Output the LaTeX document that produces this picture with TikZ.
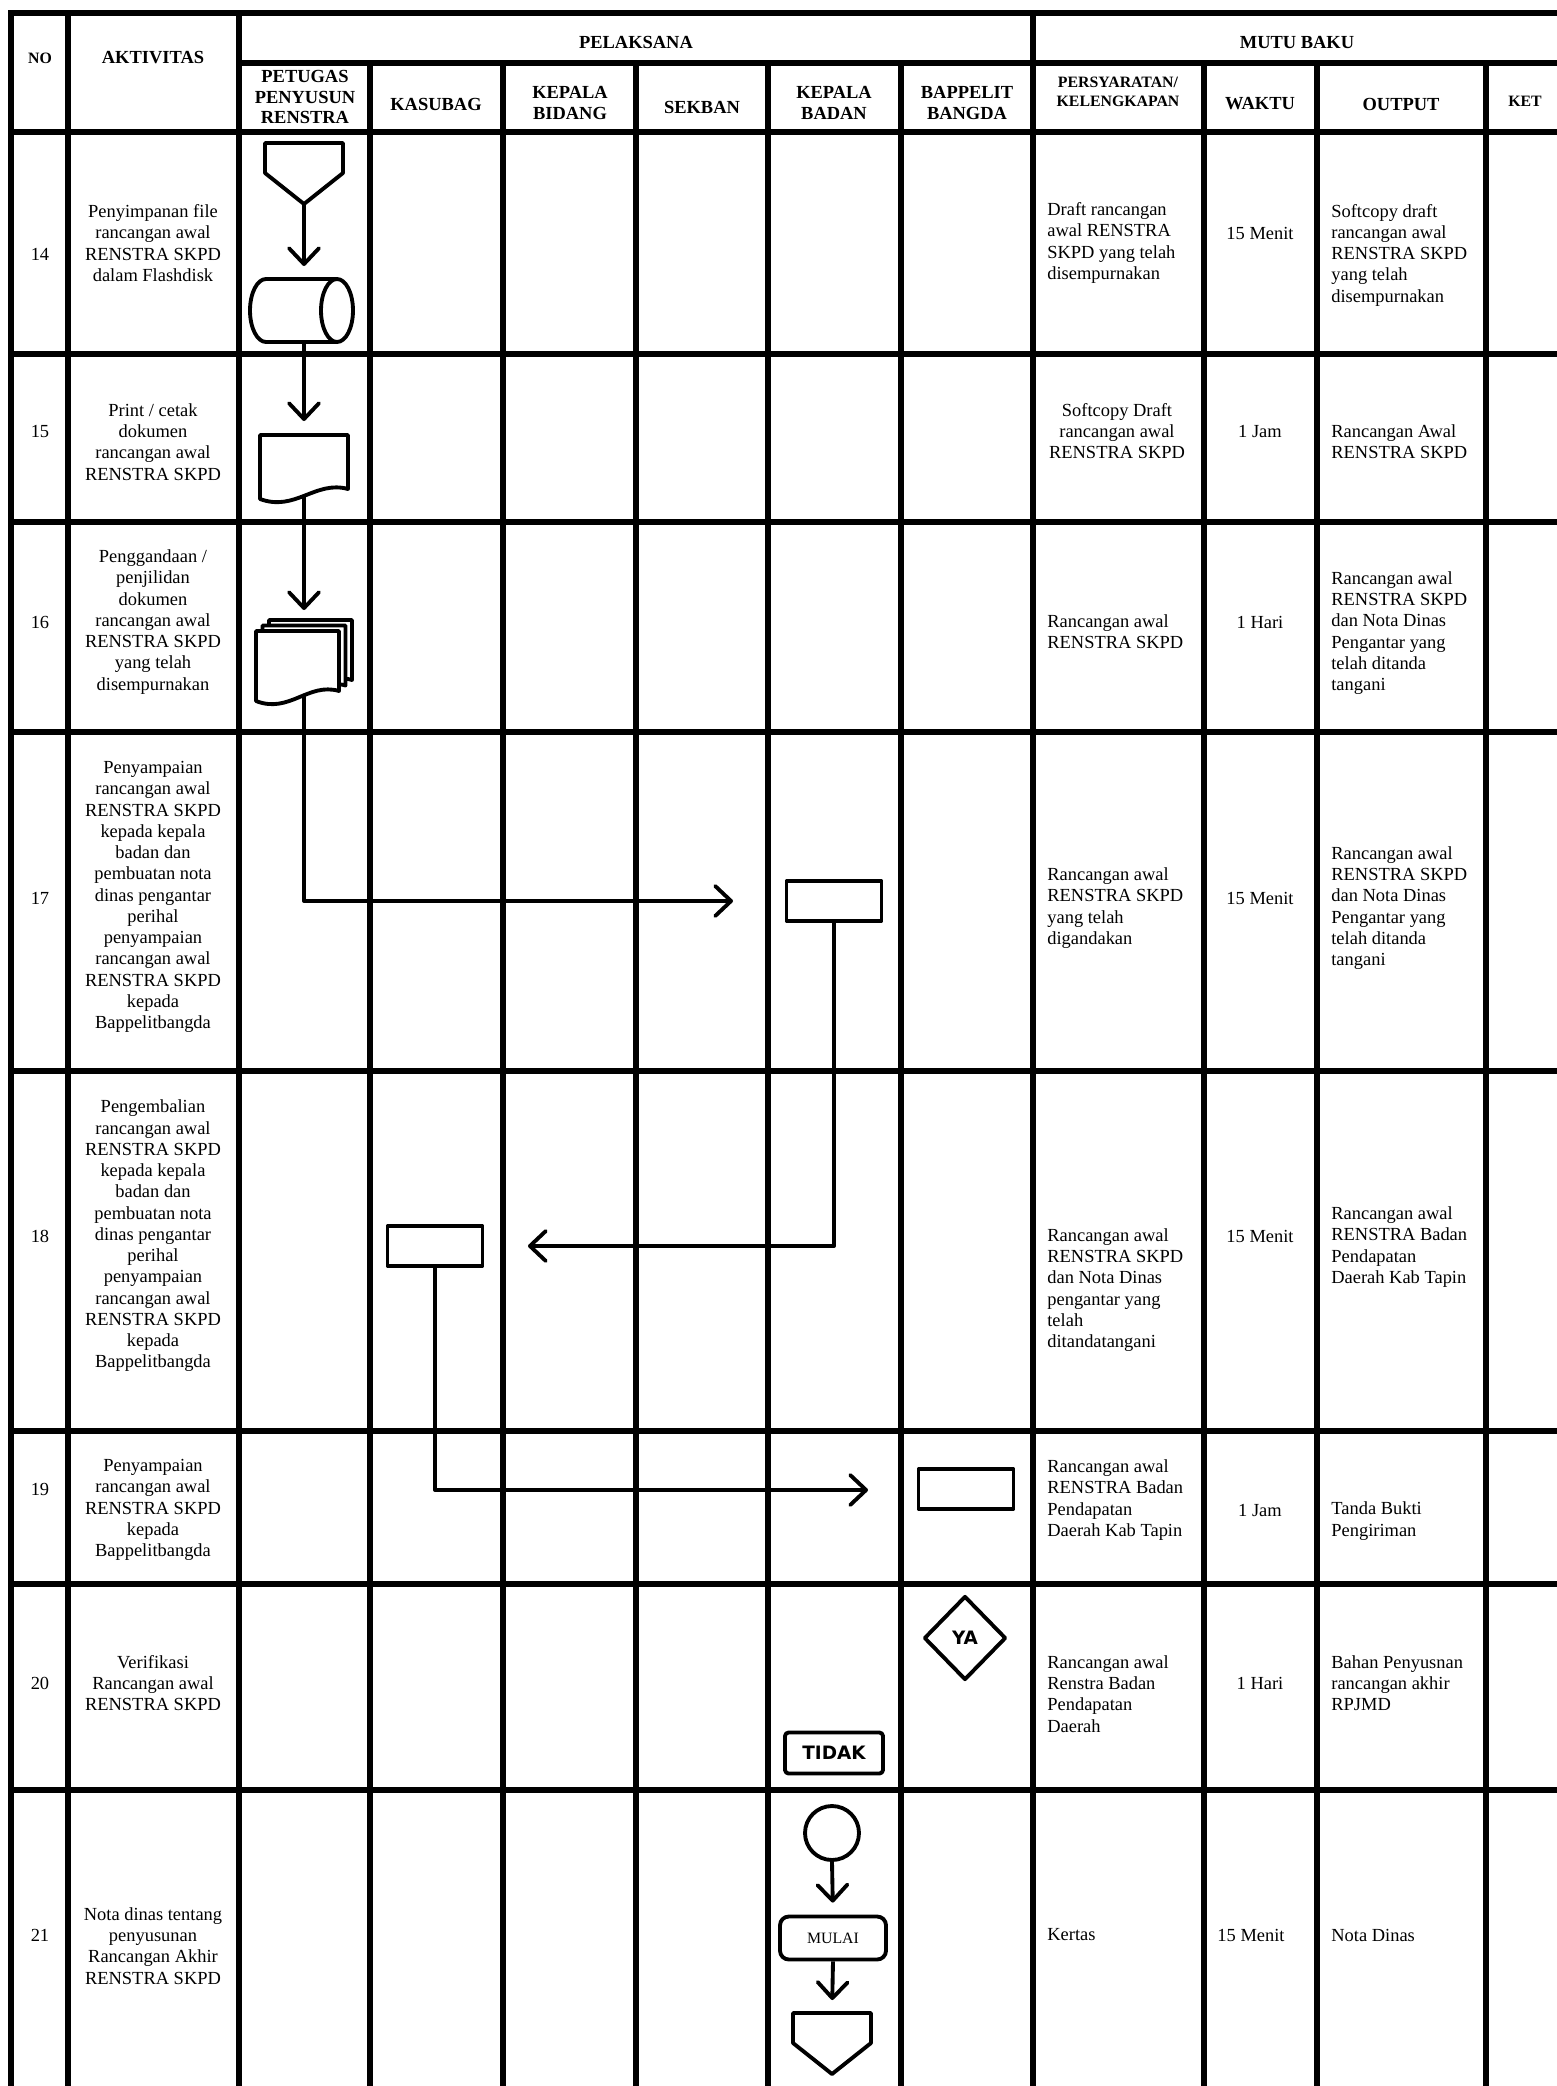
\documentclass[tikz,border=0pt]{standalone}
\usepackage{fontspec}
\setmainfont{Liberation Serif}
\newfontfamily\heavysans{DejaVu Sans}
\usetikzlibrary{shapes.geometric,arrows.meta,positioning}

\newcommand{\cellfont}{\fontsize{10.5}{12.1}\selectfont}
\newcommand{\hdrfont}{\fontsize{10.5}{11.7}\selectfont\bfseries}
\newcommand{\hdrsmall}{\fontsize{9}{10.6}\selectfont\bfseries}
\newcommand{\tagfont}{\heavysans\bfseries\fontsize{10.5}{12}\selectfont}

% off-page connector: #1 = centre x, #2 = top y
\newcommand{\offpage}[2]{%
  \draw[flowline,fill=white] (#1-39,#2) -- ++(78,0) -- ++(0,30) -- ++(-39,31) -- ++(-39,-31) -- cycle;}
% document page: #1 = left, #2 = top, #3 = width, #4 = height
\newcommand{\docpage}[4]{%
  \draw[flowline,fill=white] (#1,#2) -- ++(#3,0) -- ++(0,#4) .. controls +(-0.37*#3,-9) and +(0.4*#3,13) .. ++(-#3,10) -- cycle;}

\begin{document}
\begin{tikzpicture}[x=0.02cm,y=-0.02cm]
  \tikzstyle{tabline}=[line width=3pt, line cap=rect]
  \tikzstyle{flowline}=[line width=2.2pt, line join=round]
  \tikzstyle{arr}=[flowline, -{Straight Barb[length=9pt,width=17pt,round]}]
  \tikzstyle{txt}=[font=\cellfont, align=center, inner sep=0pt]
  \tikzstyle{ltxt}=[font=\cellfont, align=left, anchor=west, inner sep=0pt]
  \tikzstyle{headtxt}=[font=\hdrfont, align=center, inner sep=0pt]
  \tikzstyle{smallhead}=[font=\hdrsmall, align=center, inner sep=0pt]
  \tikzstyle{proc}=[draw, flowline, fill=white, minimum width=1.9cm, minimum height=0.8cm, inner sep=0pt]
  \tikzstyle{hole}=[inner sep=0pt, outer sep=0pt]

  \useasboundingbox (0,0) rectangle (1557,2086);

  % table
  \draw[tabline] (11,13) -- (1580,13) (239,63) -- (1580,63) (11,132) -- (1580,132)
    (11,354) -- (1580,354) (11,522) -- (1580,522) (11,732) -- (1580,732)
    (11,1071) -- (1580,1071) (11,1431) -- (1580,1431) (11,1584) -- (1580,1584)
    (11,1790) -- (1580,1790);
  \draw[tabline] (11,13) -- (11,2100) (68,13) -- (68,2100) (239,13) -- (239,2100)
    (1033,13) -- (1033,2100);
  \draw[tabline] (370,63) -- (370,2100) (503,63) -- (503,2100) (636,63) -- (636,2100)
    (768,63) -- (768,2100) (901,63) -- (901,2100) (1204,63) -- (1204,2100)
    (1317,63) -- (1317,2100) (1486,63) -- (1486,2100);

  % header
  \node[smallhead] (hno) at (40,58) {NO};
  \node[headtxt] (hakt) at (153,58) {AKTIVITAS};
  \node[headtxt] (hpel) at (636,42) {PELAKSANA};
  \node[headtxt] (hmutu) at (1297,42) {MUTU BAKU};
  \node[headtxt] (hpet) at (305,97) {PETUGAS\\PENYUSUN\\RENSTRA};
  \node[headtxt] (hkas) at (436,104) {KASUBAG};
  \node[headtxt] (hkbid) at (570,103) {KEPALA\\BIDANG};
  \node[headtxt] (hsek) at (702,107) {SEKBAN};
  \node[headtxt] (hkbad) at (834,103) {KEPALA\\BADAN};
  \node[headtxt] (hbap) at (967,103) {BAPPELIT\\BANGDA};
  \node[smallhead] (hsyarat) at (1118,92) {PERSYARATAN/\\KELENGKAPAN};
  \node[headtxt] (hwaktu) at (1260,104) {WAKTU};
  \node[headtxt] (hout) at (1401,104) {OUTPUT};
  \node[smallhead] (hket) at (1525,101) {KET};

  % row 14
  \node[txt] (n14) at (40,254) {14};
  \node[txt] (a14) at (153,243) {Penyimpanan file\\rancangan awal\\RENSTRA SKPD\\dalam Flashdisk};
  \node[ltxt] (p14) at (1047,243) {Draft rancangan\\awal RENSTRA\\SKPD yang telah\\disempurnakan};
  \node[txt] (w14) at (1260,233) {15 Menit};
  \node[ltxt] (o14) at (1331,255) {Softcopy draft\\rancangan awal\\RENSTRA SKPD\\yang telah\\disempurnakan};
  % row 15
  \node[txt] (n15) at (40,431) {15};
  \node[txt] (a15) at (153,442) {Print / cetak\\dokumen\\rancangan awal\\RENSTRA SKPD};
  \node[txt] (p15) at (1117,431) {Softcopy Draft\\rancangan awal\\RENSTRA SKPD};
  \node[txt] (w15) at (1260,431) {1 Jam};
  \node[ltxt] (o15) at (1331,442) {Rancangan Awal\\RENSTRA SKPD};
  % row 16
  \node[txt] (n16) at (40,622) {16};
  \node[txt] (a16) at (153,622) {Penggandaan /\\penjilidan\\dokumen\\rancangan awal\\RENSTRA SKPD\\yang telah\\disempurnakan};
  \node[ltxt] (p16) at (1047,632) {Rancangan awal\\RENSTRA SKPD};
  \node[txt] (w16) at (1260,622) {1 Hari};
  \node[ltxt] (o16) at (1331,633) {Rancangan awal\\RENSTRA SKPD\\dan Nota Dinas\\Pengantar yang\\telah ditanda\\tangani};
  % row 17
  \node[txt] (n17) at (40,898) {17};
  \node[txt] (a17) at (153,897) {Penyampaian\\rancangan awal\\RENSTRA SKPD\\kepada kepala\\badan dan\\pembuatan nota\\dinas pengantar\\perihal\\penyampaian\\rancangan awal\\RENSTRA SKPD\\kepada\\Bappelitbangda};
  \node[ltxt] (p17) at (1047,908) {Rancangan awal\\RENSTRA SKPD\\yang telah\\digandakan};
  \node[txt] (w17) at (1260,898) {15 Menit};
  \node[ltxt] (o17) at (1331,908) {Rancangan awal\\RENSTRA SKPD\\dan Nota Dinas\\Pengantar yang\\telah ditanda\\tangani};
  % row 18
  \node[txt] (n18) at (40,1236) {18};
  \node[txt] (a18) at (153,1236) {Pengembalian\\rancangan awal\\RENSTRA SKPD\\kepada kepala\\badan dan\\pembuatan nota\\dinas pengantar\\perihal\\penyampaian\\rancangan awal\\RENSTRA SKPD\\kepada\\Bappelitbangda};
  \node[ltxt] (p18) at (1047,1290) {Rancangan awal\\RENSTRA SKPD\\dan Nota Dinas\\pengantar yang\\telah\\ditandatangani};
  \node[txt] (w18) at (1260,1236) {15 Menit};
  \node[ltxt] (o18) at (1331,1247) {Rancangan awal\\RENSTRA Badan\\Pendapatan\\Daerah Kab Tapin};
  % row 19
  \node[txt] (n19) at (40,1489) {19};
  \node[txt] (a19) at (153,1510) {Penyampaian\\rancangan awal\\RENSTRA SKPD\\kepada\\Bappelitbangda};
  \node[ltxt] (p19) at (1047,1500) {Rancangan awal\\RENSTRA Badan\\Pendapatan\\Daerah Kab Tapin};
  \node[txt] (w19) at (1260,1510) {1 Jam};
  \node[ltxt] (o19) at (1331,1521) {Tanda Bukti\\Pengiriman};
  % row 20
  \node[txt] (n20) at (40,1683) {20};
  \node[txt] (a20) at (153,1683) {Verifikasi\\Rancangan awal\\RENSTRA SKPD};
  \node[ltxt] (p20) at (1047,1694) {Rancangan awal\\Renstra Badan\\Pendapatan\\Daerah};
  \node[txt] (w20) at (1260,1683) {1 Hari};
  \node[ltxt] (o20) at (1331,1683) {Bahan Penyusnan\\rancangan akhir\\RPJMD};
  % row 21
  \node[txt] (n21) at (40,1935) {21};
  \node[txt] (a21) at (153,1946) {Nota dinas tentang\\penyusunan\\Rancangan Akhir\\RENSTRA SKPD};
  \node[ltxt] (p21) at (1047,1935) {Kertas};
  \node[txt] (w21) at (1251,1935) {15 Menit};
  \node[ltxt] (o21) at (1331,1935) {Nota Dinas};

  % flow symbols
  \node[hole, minimum width=2.06cm, minimum height=1.26cm] (disk14) at (302,310.5) {};
  \node[hole, minimum width=1.76cm, minimum height=1.08cm] (print15) at (304,462) {};
  \node[hole, minimum width=1.92cm, minimum height=1.4cm] (dup16) at (304,655) {};
  \node[proc] (badan17) at (834,901) {};
  \node[proc] (kasubag18) at (435,1246) {};
  \node[proc] (bappel19) at (966,1489) {};
  \node[diamond, draw, flowline, fill=white, minimum width=1.64cm, minimum height=1.68cm, inner sep=0pt, font=\tagfont] (ya20) at (965,1638) {YA};
  \node[proc, rounded corners=2pt, minimum width=1.96cm, minimum height=0.82cm, font=\tagfont] (tidak20) at (834,1753) {\raisebox{-1.5pt}{TIDAK}};
  \node[circle, draw, flowline, fill=white, minimum size=1.08cm, inner sep=0pt] (start21) at (832,1833) {};
  \node[proc, rounded corners=5pt, minimum width=2.12cm, minimum height=0.86cm, font=\fontsize{9}{10}\selectfont] (mulai21) at (833,1938) {MULAI};

  \coordinate (off14) at (304,204);
  \coordinate (off21) at (832,2013);
  \coordinate (tip17) at (733,901);
  \coordinate (tip18) at (528,1246);
  \coordinate (tip19) at (868,1490);

  % connectors
  \draw[arr, shorten >=0.26cm] (off14) -- (off14 |- disk14.north);
  \draw[arr, shorten >=0.28cm] (disk14.south -| print15) -- (print15.north);
  \draw[arr, shorten >=0.2cm] (print15.south) -- (dup16.north);
  \draw[arr] (dup16.south) |- (tip17);
  \draw[arr] (badan17.south) |- (tip18);
  \draw[arr] (kasubag18.south) |- (tip19);
  \draw[arr, shorten >=0.24cm] (start21.south) -- (mulai21.north);
  \draw[arr, shorten >=0.26cm] (mulai21.south) -- (off21);

  % outlines drawn over the connector ends
  \offpage{304}{143}
  \draw[flowline,fill=white] (337,279) -- (266,279) arc[start angle=90, end angle=270, x radius=0.32cm, y radius=0.63cm] -- (337,342);
  \draw[flowline,fill=white] (337,310.5) ellipse [x radius=0.32cm, y radius=0.63cm];
  \offpage{832}{2013}
  \docpage{260}{435}{88}{54}
  \docpage{269}{620}{83}{60}
  \docpage{262.5}{625.5}{83}{60}
  \docpage{256}{631}{83}{60}
\end{tikzpicture}
\end{document}
